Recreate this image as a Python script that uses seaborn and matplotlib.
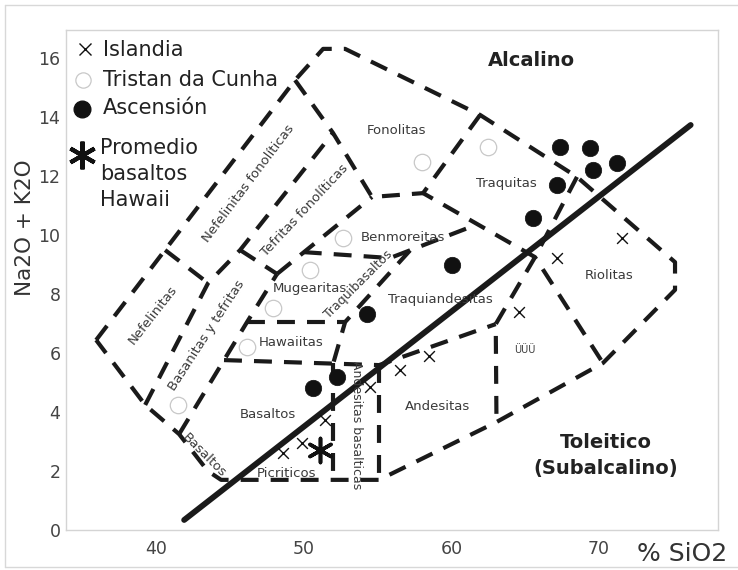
import matplotlib
matplotlib.use("Agg")
import matplotlib.pyplot as plt
from matplotlib.lines import Line2D
import seaborn as sns

sns.set_theme(style="white")
plt.rcParams["font.family"] = ["DejaVu Sans"]

# ---- sample compositions: SiO2 (wt %) vs total alkalis Na2O + K2O (wt %) ----
islandia_sio2 = [71.55, 67.15, 64.58, 58.48, 56.52, 54.49, 51.44, 49.89, 48.60]
islandia_alk = [9.90, 9.22, 7.39, 5.90, 5.42, 4.85, 3.73, 2.95, 2.61]

tristan_sio2 = [58.01, 62.48, 52.66, 50.43, 47.92, 46.16, 41.49]
tristan_alk = [12.47, 12.98, 9.90, 8.81, 7.53, 6.20, 4.24]

ascension_sio2 = [67.35, 69.38, 71.21, 69.59, 67.15, 65.52, 60.04, 54.29, 52.25, 50.63]
ascension_alk = [12.98, 12.95, 12.44, 12.20, 11.69, 10.58, 8.98, 7.32, 5.19, 4.81]

hawaii_sio2 = [51.10]
hawaii_alk = [2.71]

# alkaline / subalkaline divide
divide_sio2 = [41.9, 76.2]
divide_alk = [0.34, 13.73]

# ---- classification field boundaries (SiO2, Na2O + K2O) ----
outer_boundary = [(35.94, 6.44), (49.41, 15.25), (51.31, 16.31), (52.80, 16.31),
                  (61.94, 14.07), (68.50, 11.97), (75.14, 9.08), (75.14, 8.14),
                  (70.26, 5.66), (63.05, 3.66), (55.10, 1.70), (44.40, 1.70),
                  (43.50, 2.00), (41.56, 3.25), (39.26, 4.24), (35.94, 6.44)]
nephelinite_top = [(40.61, 9.49), (43.52, 8.37)]
basanite_left = [(39.26, 4.24), (43.52, 8.37), (45.69, 9.49), (51.98, 13.46)]
phonolite_base = [(49.41, 15.25), (51.98, 13.46), (54.62, 11.29), (58.08, 11.42)]
phon_tephrite_base = [(45.69, 9.49), (48.19, 8.68)]
phon_tephrite_right = [(48.19, 8.68), (54.62, 11.29)]
basanite_right = [(41.56, 3.25), (46.16, 7.05), (48.19, 8.68)]
mugearite_top = [(50.00, 9.42), (55.84, 9.22), (61.80, 10.37)]
mugearite_base = [(46.16, 7.05), (52.80, 7.05)]
trachybasalt_line = [(57.20, 9.48), (52.80, 7.05), (52.00, 5.66)]
hawaiite_base = [(44.60, 5.76), (55.10, 5.59), (63.00, 6.98)]
bas_andesite_left = [(52.00, 5.66), (52.00, 1.70)]
bas_andesite_right = [(55.10, 5.59), (55.10, 1.70)]
trachyte_left = [(61.94, 14.07), (58.08, 11.42), (65.66, 9.25), (70.26, 5.66)]
dacite_left = [(68.50, 11.97), (65.66, 9.25), (63.00, 6.98), (63.05, 3.66)]

boundaries = [outer_boundary, nephelinite_top, basanite_left, phonolite_base,
              phon_tephrite_base, phon_tephrite_right, basanite_right,
              mugearite_top, mugearite_base, trachybasalt_line, hawaiite_base,
              bas_andesite_left, bas_andesite_right, trachyte_left, dacite_left]

# ---- field names: (text, SiO2, alkalis, rotation, size) ----
field_labels = [
    ("Fonolitas", 56.25, 13.53, 0, 9.5),
    ("Traquitas", 63.70, 11.76, 0, 9.5),
    ("Benmoreitas", 56.72, 9.90, 0, 9.5),
    ("Mugearitas", 50.43, 8.20, 0, 9.5),
    ("Traquibasaltos", 53.68, 8.34, 45, 9.0),
    ("Traquiandesitas", 59.23, 7.80, 0, 9.5),
    ("Hawaiitas", 49.14, 6.37, 0, 9.5),
    ("Basaltos", 47.58, 3.90, 0, 9.5),
    ("Picriticos", 48.80, 1.90, 0, 9.5),
    ("Andesitas basalticas", 53.54, 3.56, -90, 9.0),
    ("Andesitas", 59.09, 4.20, 0, 9.5),
    ("ÜÜÜ", 64.98, 6.10, 0, 7.0),
    ("Riolitas", 70.67, 8.64, 0, 9.5),
    ("Nefelinitas", 39.80, 7.29, 52, 9.5),
    ("Basanitas y tefritas", 43.39, 6.61, 57, 9.5),
    ("Nefelinitas fonolíticas", 46.23, 11.76, 53, 9.5),
    ("Tefritas fonolíticas", 50.09, 10.85, 47, 9.5),
    ("Basaltos", 43.25, 2.54, -45, 9.5),
]

fig = plt.figure(figsize=(7.38, 5.70), dpi=100)
ax = fig.add_axes([66 / 738, 40 / 570, 652 / 738, 500 / 570])

dash = (0, (4.3, 2.9))
for poly in boundaries:
    xs = [p[0] for p in poly]
    ys = [p[1] for p in poly]
    ax.plot(xs, ys, color="#1a1a1a", lw=3.0, linestyle=dash,
            dash_capstyle="butt", solid_joinstyle="miter", zorder=2)

sns.lineplot(x=divide_sio2, y=divide_alk, sort=False, estimator=None,
             color="#1a1a1a", lw=4.2, ax=ax, zorder=3)

for text, x, y, rot, size in field_labels:
    ax.text(x, y, text, rotation=rot, rotation_mode="anchor", ha="center",
            va="center", fontsize=size, color="#3a3a3a", zorder=4)

sns.scatterplot(x=tristan_sio2, y=tristan_alk, marker="o", s=140,
                facecolor="white", edgecolor="#c8c8c8", linewidth=0.9,
                ax=ax, legend=False, zorder=5)
sns.scatterplot(x=ascension_sio2, y=ascension_alk, marker="o", s=140,
                color="#111111", edgecolor="#111111", linewidth=0.5,
                ax=ax, legend=False, zorder=5)
sns.scatterplot(x=islandia_sio2, y=islandia_alk, marker="x", s=60,
                color="#111111", linewidth=1.0, ax=ax, legend=False, zorder=5)
sns.scatterplot(x=hawaii_sio2, y=hawaii_alk, marker=(6, 2, 0), s=300,
                color="#111111", linewidth=2.6, ax=ax, legend=False, zorder=6)

ax.text(65.39, 15.90, "Alcalino", ha="center", va="center", fontsize=14,
        fontweight="bold", color="#222222")
ax.text(70.47, 2.98, "Toleitico", ha="center", va="center", fontsize=14,
        fontweight="bold", color="#222222")
ax.text(70.47, 2.07, "(Subalcalino)", ha="center", va="center", fontsize=14,
        fontweight="bold", color="#222222")

# key in the upper-left corner
tr = ax.transAxes
ax.plot([0.029], [0.962], marker="x", ms=8, mew=1.0, color="#111111", transform=tr)
ax.plot([0.026], [0.900], marker="o", ms=11, mew=0.9, mfc="white", mec="#c8c8c8", transform=tr)
ax.plot([0.0245], [0.843], marker="o", ms=12, color="#111111", transform=tr)
ax.plot([0.0245], [0.750], marker=(6, 2, 0), ms=20, mew=3.0, color="#111111", transform=tr)
key_font = dict(fontsize=15, color="#222222", va="center", ha="left", transform=tr)
ax.text(0.056, 0.960, "Islandia", **key_font)
ax.text(0.056, 0.900, "Tristan da Cunha", **key_font)
ax.text(0.056, 0.845, "Ascensión", **key_font)
ax.text(0.052, 0.764, "Promedio", **key_font)
ax.text(0.052, 0.712, "basaltos", **key_font)
ax.text(0.052, 0.660, "Hawaii", **key_font)

ax.set_xlim(33.9, 78.05)
ax.set_ylim(0, 16.95)
ax.set_xticks([40, 50, 60, 70])
ax.set_yticks(range(0, 17, 2))
ax.tick_params(direction="in", length=7, width=0.8, color="#cccccc",
               labelsize=12.5, labelcolor="#444444")
ax.tick_params(axis="x", pad=7)
ax.tick_params(axis="y", pad=4)
for sp in ax.spines.values():
    sp.set_color("#d4d4d4")
    sp.set_linewidth(1.0)
ax.set_xlabel("")
ax.set_ylabel("")

fig.text(25 / 738, 1 - 228 / 570, "Na2O + K2O", rotation=90, ha="center",
         va="center", fontsize=15.5, color="#333333")
fig.text(682 / 738, 1 - 554 / 570, "% SiO2", ha="center", va="center",
         fontsize=18, color="#333333")

# thin frame around the figure
frame_kw = dict(color="#d8d8d8", lw=1.0, transform=fig.transFigure)
fig.add_artist(Line2D([5 / 738, 1.0], [565 / 570, 565 / 570], **frame_kw))
fig.add_artist(Line2D([5 / 738, 5 / 738], [3 / 570, 565 / 570], **frame_kw))
fig.add_artist(Line2D([5 / 738, 1.0], [3 / 570, 3 / 570], **frame_kw))

fig.savefig("out.png", dpi=100, facecolor="white")
